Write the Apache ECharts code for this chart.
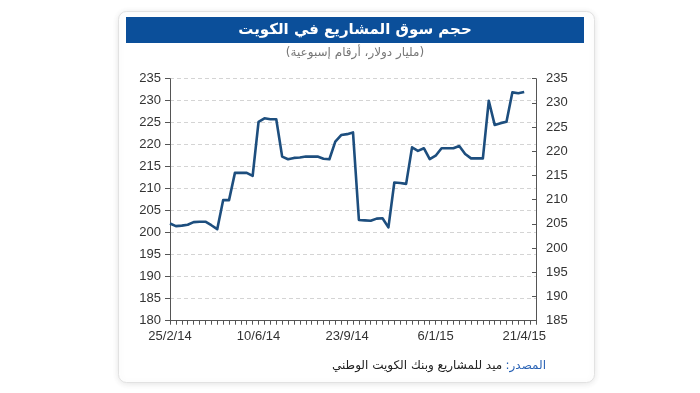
<!DOCTYPE html>
<html>
<head>
<meta charset="utf-8">
<script src="https://cdn.jsdelivr.net/npm/echarts@6/dist/echarts.min.js"></script>
<style>
html,body{margin:0;padding:0;background:#fff;}
#chart{width:700px;height:393px;}
</style>
</head>
<body>
<div id="chart"></div>
<script>
// ---- Data ----
const titleText = 'حجم سوق المشاريع في الكويت';
const subtitleText = '(مليار دولار، أرقام إسبوعية)';
const sourceLabel = ':المصدر';
const sourceText = 'ميد للمشاريع وبنك الكويت الوطني';

const startDate = [2014, 2, 25];   // year, month, day (weekly data)
const weekCount = 63;              // axis length in weeks
const tickLabels = ['25/2/14', '10/6/14', '23/9/14', '6/1/15', '21/4/15'];

const leftAxisTicks = [180, 235, 5];
const rightAxisTicks = [185, 235, 5];

const marketSize = [
  202.1, 201.5, 201.6, 201.8, 202.4, 202.5, 202.5, 201.7, 200.8, 207.4,
  207.4, 213.6, 213.6, 213.6, 212.9, 225.2, 226.0, 225.8, 225.8, 217.3,
  216.7, 217.0, 217.1, 217.3, 217.3, 217.3, 216.8, 216.7, 220.7, 222.2,
  222.4, 222.8, 202.9, 202.8, 202.7, 203.2, 203.3, 201.2, 211.4, 211.3,
  211.1, 219.4, 218.6, 219.2, 216.7, 217.5, 219.2, 219.2, 219.2, 219.7,
  217.9, 216.9, 216.9, 216.9, 230.0, 224.5, 224.9, 225.2, 231.9, 231.7,
  232.0
];

// categories: weekly dates
const categories = [];
for (let i = 0; i < weekCount; i++) {
  const d = new Date(startDate[0], startDate[1] - 1, startDate[2] + 7 * i);
  categories.push(d.getDate() + '/' + (d.getMonth() + 1) + '/' + String(d.getFullYear()).slice(2));
}

const chart = echarts.init(document.getElementById('chart'), null, {renderer: 'canvas'});
const numFont = 'Liberation Sans, Arial, sans-serif';
const arFont = 'DejaVu Sans, Noto Sans, sans-serif';

const option = {
  animation: false,
  backgroundColor: '#ffffff',
  graphic: [
    {
      type: 'rect', z: -10, silent: true,
      shape: {x: 118.5, y: 11.5, width: 476, height: 371, r: 8},
      style: {fill: '#ffffff', stroke: '#e2e2e2', lineWidth: 1,
              shadowBlur: 6, shadowColor: 'rgba(0,0,0,0.10)', shadowOffsetY: 1}
    },
    {
      type: 'rect', z: -9, silent: true,
      shape: {x: 126, y: 17, width: 458, height: 26},
      style: {fill: '#0b4f9a'}
    },
    {
      type: 'text', silent: true, z: 10,
      style: {
        x: 355, y: 30, text: titleText, align: 'center', verticalAlign: 'middle',
        fill: '#ffffff', font: 'bold 15px ' + arFont
      }
    },
    {
      type: 'text', silent: true, z: 10,
      style: {
        x: 355, y: 53, text: subtitleText, align: 'center', verticalAlign: 'middle',
        fill: '#777777', font: '12px ' + arFont
      }
    },
    {
      type: 'text', silent: true, z: 10,
      style: {
        x: 546, y: 366, align: 'right', verticalAlign: 'middle',
        text: '{b|' + sourceText + '} {a|' + sourceLabel + '}',
        rich: {
          a: {fill: '#2a63b5', fontSize: 12, fontFamily: arFont},
          b: {fill: '#222222', fontSize: 12, fontFamily: arFont}
        }
      }
    }
  ],
  grid: {left: 170, right: 164, top: 78.7, bottom: 72.3, containLabel: false},
  xAxis: {
    type: 'category',
    data: categories,
    boundaryGap: false,
    axisLine: {show: true, lineStyle: {color: '#555', width: 1}},
    axisTick: {show: true, interval: 0, length: 4, inside: false, lineStyle: {color: '#555'}},
    axisLabel: {
      interval: function (idx, val) { return tickLabels.indexOf(val) >= 0; },
      color: '#333', fontSize: 13, fontFamily: numFont, margin: 9
    },
    splitLine: {show: false}
  },
  yAxis: [
    {
      type: 'value', position: 'left',
      min: leftAxisTicks[0], max: leftAxisTicks[1], interval: leftAxisTicks[2],
      axisLine: {show: true, lineStyle: {color: '#555', width: 1}},
      axisTick: {show: true, length: 5, lineStyle: {color: '#555'}},
      axisLabel: {color: '#333', fontSize: 13, fontFamily: numFont, margin: 9},
      splitLine: {show: true, lineStyle: {color: '#d4d4d4', type: [4, 3], width: 1}}
    },
    {
      type: 'value', position: 'right',
      min: rightAxisTicks[0], max: rightAxisTicks[1], interval: rightAxisTicks[2],
      axisLine: {show: true, lineStyle: {color: '#555', width: 1}},
      axisTick: {show: true, inside: true, length: 4, lineStyle: {color: '#555'}},
      axisLabel: {color: '#333', fontSize: 13, fontFamily: numFont, margin: 10},
      splitLine: {show: false}
    }
  ],
  series: [
    {
      type: 'line',
      yAxisIndex: 0,
      data: marketSize,
      showSymbol: false,
      symbol: 'none',
      lineStyle: {color: '#1d4e7e', width: 2.6, join: 'round'},
      z: 5
    }
  ]
};
chart.setOption(option);
</script>
</body>
</html>
